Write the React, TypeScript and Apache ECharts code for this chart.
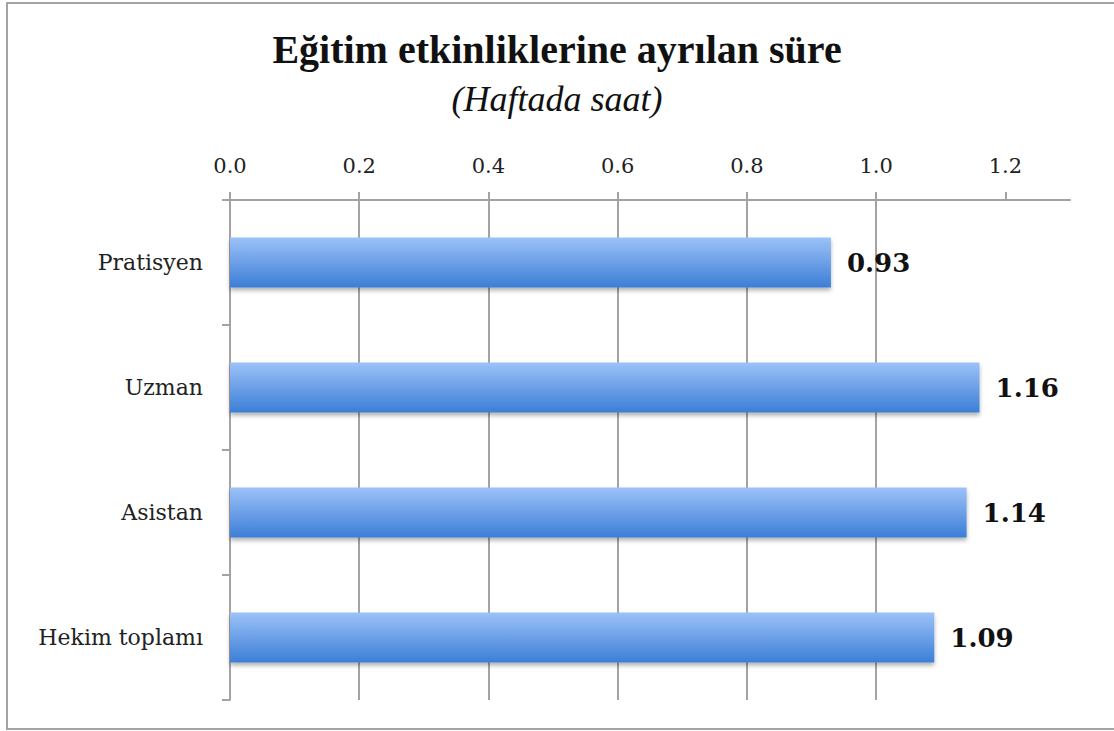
import React, { useEffect, useRef } from "react";
import * as echarts from "echarts";

const categories = ["Pratisyen", "Uzman", "Asistan", "Hekim toplamı"];
const values = [0.93, 1.16, 1.14, 1.09];
const tickValues = [0, 0.2, 0.4, 0.6, 0.8, 1.0, 1.2];
const titleText = "Eğitim etkinliklerine ayrılan süre";
const subtitleText = "(Haftada saat)";

const gray = "#a3a3a3";
const serif = "DejaVu Serif";

export default function App() {
  const ref = useRef<HTMLDivElement>(null);
  useEffect(() => {
    document.body.style.margin = "0";
    const chart = echarts.init(ref.current!, null, { renderer: "svg" });
    chart.setOption({
      animation: false,
      backgroundColor: "#ffffff",
      title: [
        {
          text: titleText,
          left: "center",
          top: 24,
          textStyle: { fontFamily: "Liberation Serif", fontWeight: "bold", fontSize: 40, color: "#111" },
        },
        {
          text: subtitleText,
          left: "center",
          top: 76,
          textStyle: { fontFamily: "Liberation Serif", fontStyle: "italic", fontWeight: "normal", fontSize: 36, color: "#111" },
        },
      ],
      graphic: [
        {
          type: "rect",
          shape: { x: 7, y: 3, width: 1200, height: 726 },
          style: { fill: "none", stroke: gray, lineWidth: 2 },
          silent: true,
        },
      ],
      grid: { left: 230, right: 44, top: 200, bottom: 31, containLabel: false, outerBoundsMode: "none" },
      xAxis: {
        type: "value",
        position: "top",
        min: 0,
        max: 1.3,
        interval: 0.2,
        axisLine: { show: true, lineStyle: { color: gray, width: 2 } },
        axisTick: { show: true, length: 8, customValues: tickValues, lineStyle: { color: gray, width: 2 } },
        axisLabel: {
          customValues: tickValues,
          formatter: (v: number) => v.toFixed(1),
          margin: 24,
          fontFamily: serif,
          fontSize: 21,
          color: "#222",
        },
        splitLine: { show: true, showMaxLine: false, lineStyle: { color: gray, width: 2 } },
      },
      yAxis: {
        type: "category",
        data: categories,
        inverse: true,
        axisLine: { show: true, lineStyle: { color: gray, width: 2 } },
        axisTick: { show: true, length: 8, lineStyle: { color: gray, width: 2 } },
        axisLabel: { margin: 27, fontFamily: serif, fontSize: 22, color: "#222" },
        splitLine: { show: false },
      },
      series: [
        {
          type: "bar",
          data: values,
          barWidth: 50,
          itemStyle: {
            color: new echarts.graphic.LinearGradient(0, 0, 0, 1, [
              { offset: 0, color: "#9cc2f8" },
              { offset: 1, color: "#3c7ed6" },
            ]),
            shadowColor: "rgba(0,0,0,0.3)",
            shadowBlur: 4,
            shadowOffsetY: 3,
          },
          label: {
            show: true,
            position: "right",
            distance: 16,
            fontFamily: serif,
            fontWeight: "bold",
            fontSize: 26,
            color: "#111",
            formatter: (p: any) => Number(p.value).toFixed(2),
          },
        },
      ],
    });
    return () => chart.dispose();
  }, []);
  return <div ref={ref} style={{ width: 1114, height: 731 }} />;
}
